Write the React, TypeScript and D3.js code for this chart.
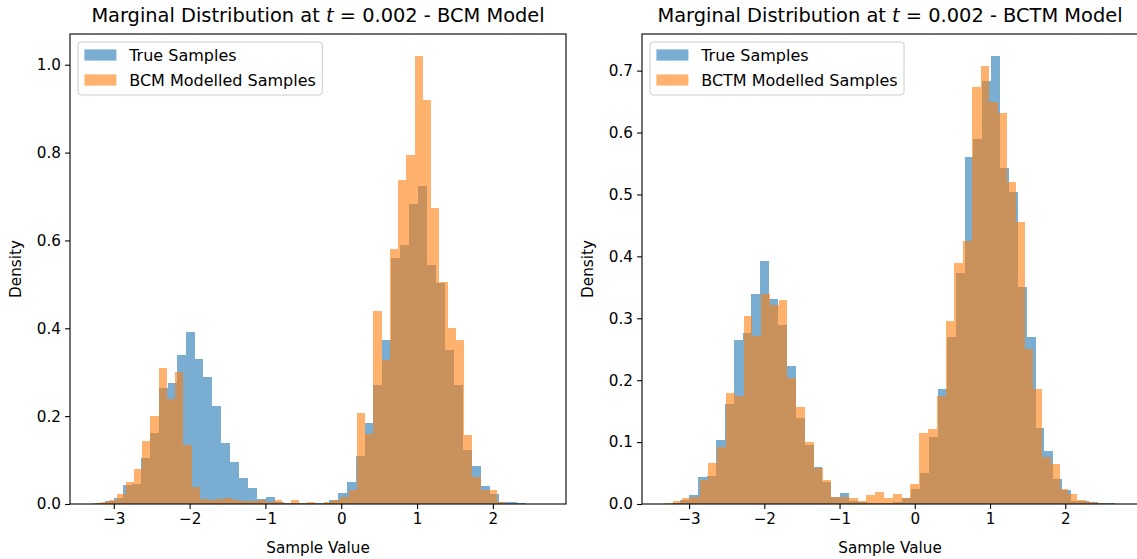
import React, { useEffect, useRef } from 'react';
import * as d3 from 'd3';

// True samples (same histogram in both panels): first bin edge, bin width, density per bin
const TRUE_START = -3.233;
const TRUE_WIDTH = 0.118;
const trueDensity = [
  0.002, 0.006, 0.014, 0.043, 0.046, 0.104, 0.162, 0.265, 0.276, 0.339,
  0.392, 0.331, 0.289, 0.223, 0.139, 0.095, 0.060, 0.036, 0.011, 0.017,
  0.005, 0.003, 0.002, 0.002, 0.002, 0.003, 0.009, 0.024, 0.050, 0.109,
  0.185, 0.270, 0.373, 0.560, 0.590, 0.683, 0.723, 0.543, 0.504, 0.351,
  0.270, 0.122, 0.086, 0.041, 0.022, 0.005, 0.005, 0.003, 0.001, 0.001,
];

// BCM modelled samples
const BCM_START = -3.28;
const BCM_WIDTH = 0.1089;
const bcmDensity = [
  0.002, 0.004, 0.010, 0.022, 0.051, 0.080, 0.144, 0.200, 0.310, 0.238,
  0.300, 0.134, 0.038, 0.011, 0.009, 0.011, 0.014, 0.008, 0.006, 0.006,
  0.009, 0.005, 0.009, 0.002, 0.009, 0.002, 0.005, 0.001, 0.005, 0.008,
  0.015, 0.033, 0.208, 0.159, 0.439, 0.327, 0.581, 0.738, 0.795, 1.019,
  0.920, 0.673, 0.505, 0.401, 0.373, 0.158, 0.061, 0.033, 0.033, 0.005,
];

// BCTM modelled samples
const BCTM_START = -3.326;
const BCTM_WIDTH = 0.1167;
const bctmDensity = [
  0.001, 0.005, 0.009, 0.012, 0.039, 0.066, 0.092, 0.180, 0.175, 0.304,
  0.271, 0.340, 0.321, 0.330, 0.203, 0.157, 0.100, 0.058, 0.039, 0.012,
  0.011, 0.009, 0.005, 0.015, 0.019, 0.010, 0.016, 0.009, 0.032, 0.115,
  0.121, 0.175, 0.296, 0.390, 0.424, 0.673, 0.708, 0.650, 0.631, 0.520,
  0.456, 0.250, 0.186, 0.076, 0.065, 0.025, 0.016, 0.006, 0.004, 0.001,
];

const xTicks = [-3, -2, -1, 0, 1, 2];
const yTicksBCM = [0, 0.2, 0.4, 0.6, 0.8, 1.0];
const yTicksBCTM = [0, 0.1, 0.2, 0.3, 0.4, 0.5, 0.6, 0.7];

const BLUE = '#1f77b4';
const ORANGE = '#ff7f0e';
const FONT = 'DejaVu Sans, sans-serif';

const PLOT_TOP = 34;
const PLOT_BOTTOM = 504;
const PLOT_W = 496;
const TICK_FONT = 15.2;

const panels = [
  { name: 'BCM', left: 70, start: BCM_START, width: BCM_WIDTH, density: bcmDensity, yTicks: yTicksBCM },
  { name: 'BCTM', left: 642, start: BCTM_START, width: BCTM_WIDTH, density: bctmDensity, yTicks: yTicksBCTM },
];

const toBins = (start: number, width: number, dens: number[]) =>
  dens.map((d, i) => ({ x0: start + i * width, x1: start + (i + 1) * width, d }));

function drawPanel(svg: any, p: any) {
  const g = svg.append('g').attr('font-family', FONT);

  const trueBins = toBins(TRUE_START, TRUE_WIDTH, trueDensity);
  const modelBins = toBins(p.start, p.width, p.density);
  const all = trueBins.concat(modelBins);

  // matplotlib-like limits: data extent + 5% margin on x, 5% headroom on y
  const lo = d3.min(all, b => b.x0) as number;
  const hi = d3.max(all, b => b.x1) as number;
  const pad = (hi - lo) * 0.05;
  const x = d3.scaleLinear().domain([lo - pad, hi + pad]).range([p.left, p.left + PLOT_W]);
  const yMax = (d3.max(all, b => b.d) as number) * 1.05;
  const y = d3.scaleLinear().domain([0, yMax]).range([PLOT_BOTTOM, PLOT_TOP]);

  const drawBars = (data: any[], color: string) => {
    g.append('g')
      .selectAll('rect')
      .data(data)
      .join('rect')
      .attr('x', (b: any) => x(b.x0))
      .attr('width', (b: any) => x(b.x1) - x(b.x0))
      .attr('y', (b: any) => y(b.d))
      .attr('height', (b: any) => y(0) - y(b.d))
      .attr('fill', color)
      .attr('fill-opacity', 0.6)
      .attr('shape-rendering', 'crispEdges');
  };
  drawBars(trueBins, BLUE);
  drawBars(modelBins, ORANGE);

  // axes
  const xAxis = g.append('g')
    .attr('transform', `translate(0,${PLOT_BOTTOM})`)
    .call(d3.axisBottom(x).tickValues(xTicks).tickSize(4.9).tickPadding(4.2).tickSizeOuter(0).tickFormat(d3.format('d')));
  const yAxis = g.append('g')
    .attr('transform', `translate(${p.left},0)`)
    .call(d3.axisLeft(y).tickValues(p.yTicks).tickSize(4.9).tickPadding(4.2).tickSizeOuter(0).tickFormat(d3.format('.1f')));

  [xAxis, yAxis].forEach(a => {
    a.select('.domain').remove();
    a.attr('font-family', FONT).attr('font-size', TICK_FONT);
    a.selectAll('line').attr('stroke', '#000').attr('stroke-width', 1.1);
    a.selectAll('text').attr('fill', '#000');
  });

  // spines
  g.append('rect')
    .attr('x', p.left)
    .attr('y', PLOT_TOP)
    .attr('width', PLOT_W)
    .attr('height', PLOT_BOTTOM - PLOT_TOP)
    .attr('fill', 'none')
    .attr('stroke', '#000')
    .attr('stroke-width', 1.1);

  // title
  const title = g.append('text')
    .attr('x', p.left + PLOT_W / 2)
    .attr('y', 22)
    .attr('text-anchor', 'middle')
    .attr('font-size', 19.4)
    .attr('fill', '#000');
  title.append('tspan').text('Marginal Distribution at ');
  title.append('tspan').attr('font-style', 'italic').text('t');
  title.append('tspan').text(' = 0.002 - ' + p.name + ' Model');

  // axis labels
  g.append('text')
    .attr('x', p.left + PLOT_W / 2)
    .attr('y', 553)
    .attr('text-anchor', 'middle')
    .attr('font-size', TICK_FONT)
    .attr('fill', '#000')
    .text('Sample Value');

  g.append('text')
    .attr('transform', `translate(${p.left - 49},${(PLOT_TOP + PLOT_BOTTOM) / 2}) rotate(-90)`)
    .attr('text-anchor', 'middle')
    .attr('font-size', TICK_FONT)
    .attr('fill', '#000')
    .text('Density');

  // legend
  const lx = p.left + 8;
  const ly = PLOT_TOP + 8;
  const lg = g.append('g');
  const box = lg.append('rect');
  const items = [
    { label: 'True Samples', color: BLUE },
    { label: p.name + ' Modelled Samples', color: ORANGE },
  ];
  let maxW = 0;
  items.forEach((it, k) => {
    const cy = ly + 13 + k * 25;
    lg.append('rect')
      .attr('x', lx + 6.4)
      .attr('y', cy - 5.6)
      .attr('width', 32)
      .attr('height', 11.2)
      .attr('fill', it.color)
      .attr('fill-opacity', 0.6);
    const t = lg.append('text')
      .attr('x', lx + 6.4 + 32 + 12.8)
      .attr('y', cy)
      .attr('dy', '0.36em')
      .attr('font-size', 16)
      .attr('fill', '#000')
      .text(it.label);
    maxW = Math.max(maxW, (t.node() as SVGTextElement).getComputedTextLength());
  });
  box
    .attr('x', lx)
    .attr('y', ly)
    .attr('width', 6.4 + 32 + 12.8 + maxW + 6.4)
    .attr('height', 53)
    .attr('rx', 3)
    .attr('fill', '#fff')
    .attr('fill-opacity', 0.8)
    .attr('stroke', '#cccccc')
    .attr('stroke-width', 1);
}

export default function App() {
  const svgRef = useRef<SVGSVGElement>(null);

  useEffect(() => {
    const svg = d3.select(svgRef.current);
    svg.selectAll('*').remove();
    panels.forEach(p => drawPanel(svg, p));
  }, []);

  return (
    <svg
      ref={svgRef}
      width={1137}
      height={559}
      style={{ position: 'absolute', left: 0, top: 0, background: 'white' }}
    />
  );
}
